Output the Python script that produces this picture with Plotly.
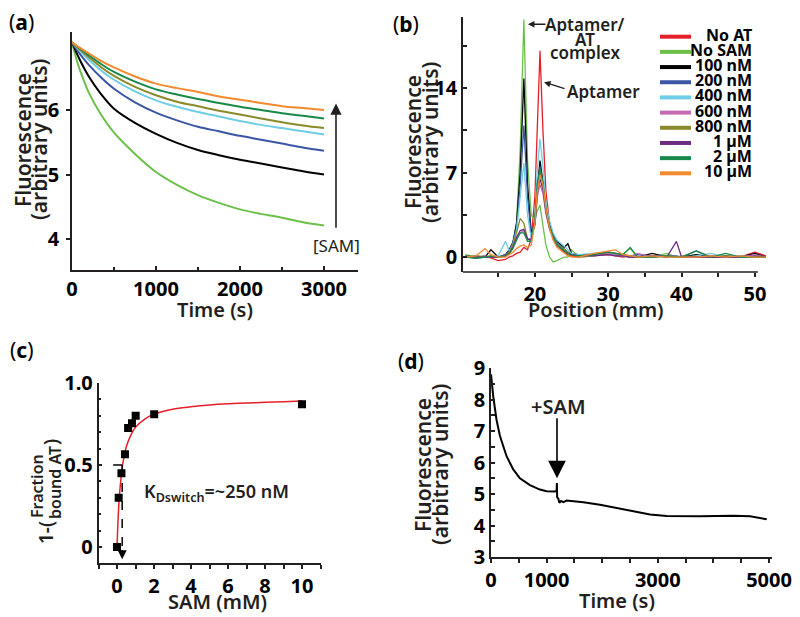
import plotly.graph_objects as go

# page body has an 8px margin: figure is drawn 8px right/down, so map reference pixels accordingly
OFF = 8
W, H = 790, 607
def px(x): return (x - OFF) / W
def py(y): return 1 - (y - OFF) / H

FONT = "Noto Sans"
AXC = "#231f20"

# ---------------- Panel (a) data ----------------
time_a = [0, 50, 100, 200, 350, 500, 750, 1000, 1250, 1500, 1750, 2000, 2250, 2500, 2750, 3000]
a_no_sam = [7.05, 6.80, 6.60, 6.27, 5.92, 5.65, 5.32, 5.04, 4.84, 4.68, 4.56, 4.46, 4.39, 4.33, 4.26, 4.21]
a_100nM = [7.05, 6.90, 6.76, 6.52, 6.24, 6.02, 5.80, 5.63, 5.49, 5.38, 5.30, 5.23, 5.17, 5.11, 5.05, 5.00]
a_200nM = [7.05, 6.95, 6.86, 6.70, 6.50, 6.33, 6.12, 5.96, 5.84, 5.74, 5.67, 5.60, 5.54, 5.48, 5.42, 5.37]
a_400nM = [7.05, 6.98, 6.91, 6.78, 6.61, 6.47, 6.29, 6.15, 6.05, 5.97, 5.90, 5.83, 5.77, 5.72, 5.67, 5.62]
a_800nM = [7.05, 6.99, 6.93, 6.82, 6.66, 6.53, 6.36, 6.23, 6.13, 6.06, 5.99, 5.93, 5.87, 5.81, 5.76, 5.72]
a_2uM = [7.05, 7.00, 6.95, 6.85, 6.71, 6.59, 6.44, 6.32, 6.24, 6.17, 6.11, 6.05, 6.00, 5.95, 5.91, 5.87]
a_10uM = [7.05, 7.00, 6.96, 6.88, 6.76, 6.66, 6.52, 6.41, 6.34, 6.28, 6.21, 6.16, 6.11, 6.06, 6.03, 6.00]

# ---------------- Panel (b) data ----------------
pos_b = [10.5, 12, 13.2, 14, 15, 16, 16.5, 17, 17.5, 18, 18.5, 19, 19.5, 20, 20.3, 20.7, 21.1, 21.5, 22, 22.5,
         23, 24, 24.5, 25, 26, 28, 30, 31, 32, 33, 34, 36, 38, 39.3, 40, 42, 44, 46, 48, 50, 51.5]
b_no_at = [0.1, -0.1, 0.1, -0.1, -0.3, -0.2, 0.0, 0.1, 0.3, 0.4, 0.8, 0.6, 1.5, 5.0, 10.5, 17.1, 10.5, 5.5, 2.8, 1.6,
           1.0, 0.4, 0.2, 0.1, 0.0, 0.1, 0.2, 0.1, 0.0, 0.1, 0.0, 0.0, 0.1, 0.0, 0.0, 0.0, 0.1, 0.0, 0.0, 0.4, 0.1]
b_no_sam = [0.2, 0.0, 0.1, 0.0, 0.0, 0.1, 0.3, 1.0, 2.8, 9.0, 19.7, 8.0, 3.5, 3.0, 3.8, 4.3, 2.6, 1.0, 0.0, -0.4,
            -0.3, 0.0, 0.0, 0.6, 0.0, 0.1, 0.3, 0.2, 0.2, 0.7, 0.0, 0.0, 0.3, 0.0, 0.0, 0.2, 0.0, 0.0, 0.1, 0.0, 0.0]
b_100nM = [0.1, 0.0, 0.0, 0.6, 0.0, 0.2, 0.6, 1.2, 2.8, 7.0, 14.8, 6.0, 2.0, 2.8, 5.5, 8.0, 6.2, 4.0, 2.6, 1.8,
           1.3, 0.8, 1.1, 0.3, 0.1, 0.2, 0.3, 0.2, 0.1, 0.0, 0.0, 0.3, 0.0, 0.0, 0.0, 0.2, 0.0, 0.1, 0.0, 0.3, 0.0]
b_200nM = [0.0, 0.1, 0.0, 0.0, 0.0, 0.2, 0.5, 1.2, 2.5, 6.0, 10.9, 5.0, 1.8, 2.6, 5.0, 7.5, 6.0, 3.8, 2.5, 1.7,
           1.2, 0.7, 0.4, 0.3, 0.2, 0.2, 0.4, 0.3, 0.2, 0.1, 0.2, 0.1, 0.1, 0.1, 0.0, 0.5, 0.0, 0.0, 0.1, 0.0, 0.0]
b_400nM = [0.1, -0.1, 0.0, 0.0, 0.1, 1.3, 0.5, 1.0, 2.2, 5.0, 7.8, 3.5, 1.5, 3.0, 7.0, 9.8, 7.5, 4.5, 3.0, 2.0,
           1.4, 0.9, 0.6, 0.3, 0.2, 0.3, 0.3, 0.2, 0.1, 0.1, 0.0, 0.1, 0.0, 0.0, 0.0, 0.1, 0.3, 0.0, 0.1, 0.0, 0.0]
b_600nM = [0.0, 0.0, 0.1, 0.0, 0.0, 0.1, 0.4, 0.9, 1.7, 2.0, 2.2, 1.5, 1.5, 3.0, 5.0, 6.0, 5.3, 3.6, 2.3, 1.5,
           1.0, 0.5, 0.3, 0.2, 0.1, 0.2, 0.3, 0.2, 0.1, 0.0, 0.3, 0.0, 0.1, 0.0, 0.0, 0.0, 0.1, 0.0, 0.0, 0.2, 0.0]
b_800nM = [0.0, 0.1, 0.0, 0.1, 0.0, 0.1, 0.4, 1.0, 2.0, 3.2, 2.8, 1.5, 1.3, 3.0, 5.5, 7.0, 6.0, 4.0, 2.5, 1.7,
           1.1, 0.6, 0.4, 0.2, 0.1, 0.2, 0.4, 0.3, 0.2, 0.1, 0.0, 0.0, 0.1, 0.0, 0.1, 0.0, 0.0, 0.1, 0.0, 0.0, 0.0]
b_1uM = [0.0, 0.0, 0.0, 0.0, 0.0, 0.1, 0.3, 0.8, 1.6, 2.2, 2.3, 1.5, 1.4, 3.0, 5.3, 6.5, 5.6, 3.8, 2.4, 1.6,
         1.0, 0.5, 0.3, 0.2, 0.1, 0.1, 0.2, 0.1, 0.1, 0.0, 0.0, 0.1, 0.0, 1.3, 0.0, 0.0, 0.0, 0.0, 0.0, 0.1, 0.0]
b_2uM = [0.0, -0.1, 0.0, 0.1, 0.0, 0.1, 0.3, 0.7, 1.4, 2.0, 2.0, 1.3, 1.3, 3.2, 6.0, 7.3, 6.2, 4.0, 2.5, 1.6,
         1.0, 0.5, 0.3, 0.2, 0.1, 0.2, 0.4, 0.3, 0.2, 0.8, 0.0, 0.0, 0.1, 0.0, 0.0, 0.5, 0.0, 0.3, 0.0, 0.0, 0.0]
b_10uM = [0.0, 0.1, 0.7, 0.2, 0.0, 0.0, 0.2, 0.4, 0.7, 0.9, 1.0, 0.8, 1.0, 2.8, 5.3, 6.8, 6.0, 4.0, 2.4, 1.4,
          0.8, 0.3, 0.1, 0.0, 0.0, 0.3, 0.5, 0.6, 0.2, 0.1, 0.0, 0.1, 0.0, 0.0, 0.0, 0.0, 0.1, 0.0, 0.1, 0.0, 0.0]

legend_names = ["No AT", "No SAM", "100 nM", "200 nM", "400 nM", "600 nM", "800 nM", "1 µM", "2 µM", "10 µM"]
colors = ["#e5202a", "#6cc04a", "#000000", "#3a56a5", "#6fcde6", "#c46bb0", "#8a8a2c", "#6b2d84", "#18894a", "#f28a30"]

# ---------------- Panel (c) data ----------------
sam_mM = [0, 0.09, 0.24, 0.43, 0.6, 0.81, 1.01, 2.01, 10.0]
frac = [0, 0.30, 0.45, 0.565, 0.725, 0.755, 0.80, 0.81, 0.87]
fit_x = [0.0, 0.05, 0.1, 0.15, 0.2, 0.3, 0.4, 0.5, 0.7, 1.0, 1.5, 2.0, 3.0, 4.0, 5.0, 6.0, 7.0, 8.0, 9.0, 10.0]
fit_y = [0.0, 0.15, 0.26, 0.34, 0.40, 0.50, 0.56, 0.61, 0.67, 0.73, 0.78, 0.81, 0.84, 0.855, 0.866, 0.873, 0.878, 0.882, 0.886, 0.89]

# ---------------- Panel (d) data ----------------
time_d = [0, 15, 40, 100, 160, 280, 400, 520, 700, 880, 1000, 1150, 1180, 1185, 1190, 1210, 1230, 1260, 1300, 1360,
          1660, 1960, 2260, 2560, 2860, 3160, 3760, 4360, 4660, 4960]
fluor_d = [8.8, 8.55, 8.1, 7.35, 6.85, 6.2, 5.78, 5.5, 5.28, 5.14, 5.09, 5.08, 5.1, 5.35, 4.9, 4.85, 4.72, 4.78, 4.74, 4.79,
           4.74, 4.66, 4.55, 4.45, 4.35, 4.3, 4.29, 4.31, 4.29, 4.2]

fig = go.Figure()

# (a) traces
a_series = [(a_no_sam, colors[1]), (a_100nM, colors[2]), (a_200nM, colors[3]), (a_400nM, colors[4]),
            (a_800nM, colors[6]), (a_2uM, colors[8]), (a_10uM, colors[9])]
for ys, c in a_series:
    fig.add_trace(go.Scatter(x=time_a, y=ys, mode="lines", line=dict(color=c, width=2, shape="spline"),
                             xaxis="x", yaxis="y", showlegend=False, hoverinfo="skip"))

# (b) traces
b_series = [b_no_at, b_no_sam, b_100nM, b_200nM, b_400nM, b_600nM, b_800nM, b_1uM, b_2uM, b_10uM]
for ys, c, n in zip(b_series, colors, legend_names):
    fig.add_trace(go.Scatter(x=pos_b, y=ys, mode="lines", line=dict(color=c, width=1.3), name=n,
                             xaxis="x2", yaxis="y2", showlegend=False))

# (c) traces
fig.add_trace(go.Scatter(x=fit_x, y=fit_y, mode="lines", line=dict(color="#e5202a", width=1.5, shape="spline"),
                         xaxis="x3", yaxis="y3", showlegend=False))
fig.add_trace(go.Scatter(x=sam_mM, y=frac, mode="markers", marker=dict(symbol="square", size=8, color="black"),
                         xaxis="x3", yaxis="y3", showlegend=False))

# (d) trace
fig.add_trace(go.Scatter(x=time_d, y=fluor_d, mode="lines", line=dict(color="black", width=2),
                         xaxis="x4", yaxis="y4", showlegend=False))

tickfont = dict(family=FONT, size=20, color="black", weight="bold")
base = dict(showline=True, linecolor=AXC, linewidth=1.5, showgrid=False, zeroline=False, automargin=False,
            tickfont=tickfont, tickcolor=AXC, tickwidth=1.5, ticklen=4)

fig.update_layout(
    width=W, height=H, margin=dict(l=0, r=0, t=0, b=0, autoexpand=False),
    paper_bgcolor="white", plot_bgcolor="white",
    xaxis=dict(base, domain=[px(72), px(358)], range=[0, 3405], anchor="y", ticks="inside",
               tickvals=[0, 1000, 2000, 3000], minor=dict(ticks="inside", dtick=500, tick0=0, ticklen=3, tickcolor=AXC)),
    yaxis=dict(base, domain=[py(270), py(32)], range=[3.52, 7.21], anchor="x", ticks="outside",
               tickvals=[4, 5, 6], ticklabelstandoff=3),
    xaxis2=dict(base, domain=[px(463), px(767)], range=[10.2, 51.65], anchor="y2", ticks="outside", showline=False,
                tickvals=[20, 30, 40, 50], minor=dict(ticks="outside", dtick=5, tick0=0, ticklen=4, tickcolor=AXC)),
    yaxis2=dict(base, domain=[py(272), py(17)], range=[-1.24, 19.9], anchor="x2", ticks="inside",
                tickvals=[0, 7, 14], minor=dict(ticks="inside", dtick=3.5, tick0=0, ticklen=4, tickcolor=AXC)),
    xaxis3=dict(base, domain=[px(98.5), px(320.5)], range=[-1, 11], anchor="y3", ticks="outside",
                tickvals=[0, 2, 4, 6, 8, 10], minor=dict(ticks="outside", dtick=1, tick0=0, ticklen=4, tickcolor=AXC)),
    yaxis3=dict(base, domain=[py(563.4), py(383)], range=[-0.1, 1.0], anchor="x3", ticks="inside",
                tickvals=[0, 0.5, 1.0], ticktext=["0", "0.5", "1.0"],
                minor=dict(ticks="inside", dtick=0.1, tick0=0, ticklen=3, tickcolor=AXC)),
    xaxis4=dict(base, domain=[px(491), px(772)], range=[0, 5054], anchor="y4", ticks="outside",
                tickvals=[0, 1000, 3000, 5000], minor=dict(ticks="outside", dtick=500, tick0=0, ticklen=4, tickcolor=AXC)),
    yaxis4=dict(base, domain=[py(557), py(368)], range=[3, 9], anchor="x4", ticks="inside",
                tickvals=[3, 4, 5, 6, 7, 8, 9], minor=dict(ticks="inside", dtick=0.5, tick0=0, ticklen=4, tickcolor=AXC)),
)

ann = []
def ptext(text, x, y, size=20, angle=0, weight="normal", color=AXC, xanchor="center"):
    ann.append(dict(text=text, x=px(x), y=py(y), xref="paper", yref="paper", showarrow=False,
                    textangle=angle, xanchor=xanchor, yanchor="middle",
                    font=dict(family=FONT, size=size, color=color, weight=weight)))

# panel labels
ptext("(<b>a</b>)", 21, 22, size=21, color="black")
ptext("(<b>b</b>)", 406, 24, size=21, color="black")
ptext("(<b>c</b>)", 21, 350, size=21, color="black")
ptext("(<b>d</b>)", 411, 361, size=21, color="black")

# axis titles
ptext("Time (s)", 215, 309, size=20, weight=600)
ptext("Position (mm)", 596, 310, size=20, weight=600)
ptext("SAM (mM)", 218, 601, size=20, weight=600)
ptext("Time (s)", 617, 600, size=20, weight=600)
for (x1, x2, yc) in [(23, 39, 140), (413, 430, 142), (423, 440, 465)]:
    ptext("Fluorescence", x1, yc, size=21, angle=-90, weight=600)
    ptext("(arbitrary units)", x2, yc, size=21, angle=-90, weight=600)
# panel (c) y title
ptext("1-(", 46, 533, size=19, angle=-90, weight=600)
ptext("Fraction", 37, 486, size=16, angle=-90, weight=600)
ptext("bound AT", 55, 483, size=16, angle=-90, weight=600)
ptext(")", 51, 442, size=19, angle=-90, weight=600)

# (a) arrow and [SAM]
ann.append(dict(x=3143, y=6.1, ax=3143, ay=4.15, xref="x", yref="y", axref="x", ayref="y", text="",
                showarrow=True, arrowhead=2, arrowsize=1.4, arrowwidth=1.6, arrowcolor=AXC))
ann.append(dict(x=3150, y=3.9, xref="x", yref="y", text="[SAM]", showarrow=False,
                font=dict(family=FONT, size=17, color=AXC)))

# (b) annotations
ptext("Aptamer/", 585, 25, size=17, weight=600)
ptext("AT", 585, 39, size=17, weight=600)
ptext("complex", 585, 53, size=17, weight=600)
ptext("Aptamer", 603, 92, size=17, weight=600)
ann.append(dict(x=19.05, y=19.3, xref="x2", yref="y2", ax=19, ay=0, text="", showarrow=True,
                arrowhead=2, arrowsize=1, arrowwidth=1.3, arrowcolor=AXC))
ann.append(dict(x=21.25, y=14.5, xref="x2", yref="y2", ax=22, ay=7, text="", showarrow=True,
                arrowhead=2, arrowsize=1, arrowwidth=1.3, arrowcolor=AXC))

# (b) legend
for i, (n, c) in enumerate(zip(legend_names, colors)):
    yc = 36.7 + i * 15.18
    ptext("<b>" + n + "</b>", 754, yc - 2, size=16, color="black", xanchor="right")

shapes = []
for i, c in enumerate(colors):
    yc = 36.7 + i * 15.18
    shapes.append(dict(type="line", xref="paper", yref="paper", x0=px(660), x1=px(691), y0=py(yc), y1=py(yc),
                       line=dict(color=c, width=4)))
# (b) bottom axis line (shorter than plotted data range)
shapes.append(dict(type="line", xref="x2", yref="y2 domain", x0=10.2, x1=50.4, y0=0, y1=0,
                   line=dict(color=AXC, width=1.5)))

# (c) dashed guides + arrowheads
shapes.append(dict(type="line", xref="x3", yref="y3", x0=0.28, x1=-0.25, y0=0.5, y1=0.5,
                   line=dict(color="black", width=1.5, dash="dash")))
shapes.append(dict(type="line", xref="x3", yref="y3", x0=0.28, x1=0.28, y0=0.5, y1=-0.03,
                   line=dict(color="black", width=1.5, dash="dash")))
ann.append(dict(x=-0.38, y=0.5, ax=-0.2, ay=0.5, xref="x3", yref="y3", axref="x3", ayref="y3", text="",
                showarrow=True, arrowhead=2, arrowsize=1.2, arrowwidth=1.5, arrowcolor="black"))
ann.append(dict(x=0.28, y=-0.075, ax=0.28, ay=-0.01, xref="x3", yref="y3", axref="x3", ayref="y3", text="",
                showarrow=True, arrowhead=2, arrowsize=1.2, arrowwidth=1.5, arrowcolor="black"))
ann.append(dict(x=5.4, y=0.335, xref="x3", yref="y3", showarrow=False,
                text="K<sub>Dswitch</sub>=~250 nM", font=dict(family=FONT, size=18, color=AXC, weight=600)))

# (d) +SAM arrow
ann.append(dict(x=1187, y=5.5, ax=1187, ay=7.45, xref="x4", yref="y4", axref="x4", ayref="y4", text="",
                showarrow=True, arrowhead=2, arrowsize=2.2, arrowwidth=1.6, arrowcolor="black"))
ann.append(dict(x=1205, y=7.78, xref="x4", yref="y4", showarrow=False, text="+SAM",
                font=dict(family=FONT, size=20, color=AXC, weight=600)))

fig.update_layout(annotations=ann, shapes=shapes)
fig.write_html("out.html")
